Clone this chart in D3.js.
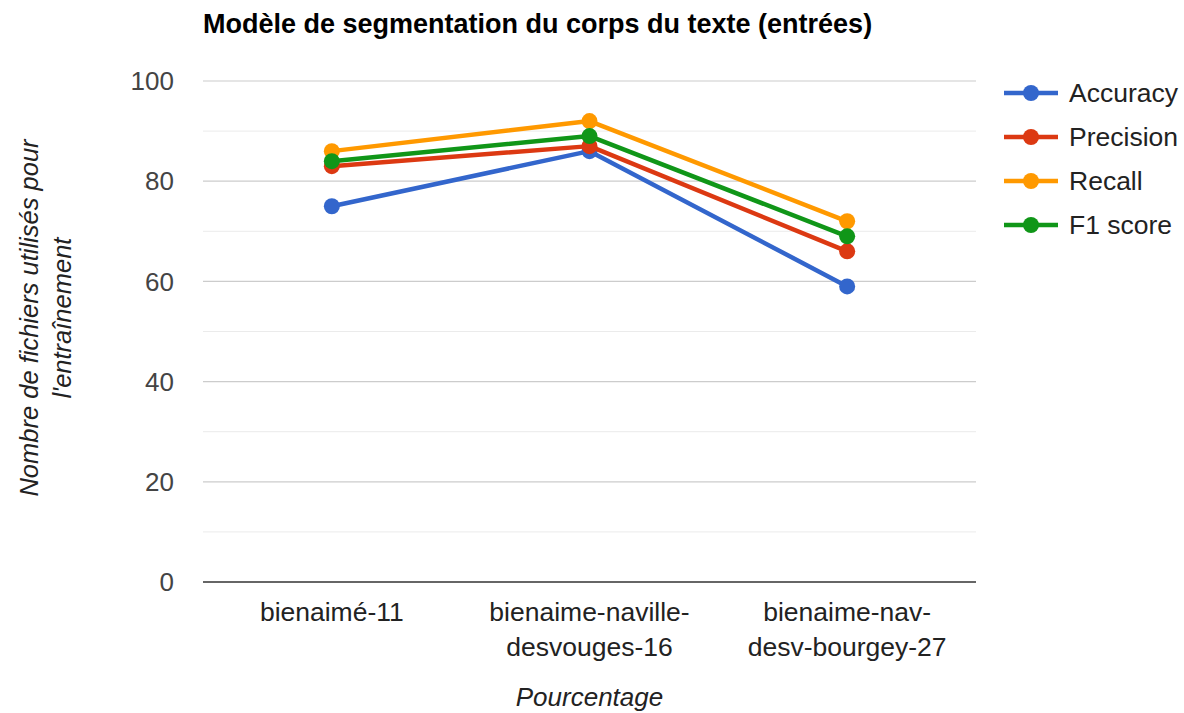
<!DOCTYPE html>
<html><head><meta charset="utf-8">
<script src="https://cdn.jsdelivr.net/npm/d3@7"></script>
<style>body{margin:0;background:#fff;}svg{display:block;font-family:"Liberation Sans",Arial,sans-serif;}</style>
</head><body>
<svg id="c" width="1184" height="713"></svg>
<script>
const categories = [["bienaimé-11"], ["bienaime-naville-", "desvouges-16"], ["bienaime-nav-", "desv-bourgey-27"]];
const seriesNames = ["Accuracy", "Precision", "Recall", "F1 score"];
const accuracy = [75, 86, 59];
const precision = [83, 87, 66];
const recall = [86, 92, 72];
const f1score = [84, 89, 69];
const yTicks = [0, 20, 40, 60, 80, 100];
const colors = ["#3366cc", "#dc3912", "#ff9900", "#109618"];
const seriesValues = [accuracy, precision, recall, f1score];

const svg = d3.select("#c");
const L = 203, R = 976, T = 81, B = 582;
const x = d3.scaleBand().domain(d3.range(categories.length)).range([L, R]);
const y = d3.scaleLinear().domain([0, 100]).range([B, T]);

// minor grid
const minor = d3.range(10, 100, 20);
svg.append("g").selectAll("line").data(minor).join("line")
  .attr("x1", L).attr("x2", R).attr("y1", d => y(d)).attr("y2", d => y(d))
  .attr("stroke", "#ebebeb").attr("stroke-width", 1);
// major grid
svg.append("g").selectAll("line").data(yTicks.filter(d => d > 0)).join("line")
  .attr("x1", L).attr("x2", R).attr("y1", d => y(d)).attr("y2", d => y(d))
  .attr("stroke", "#cccccc").attr("stroke-width", 1.2);
// baseline
svg.append("line").attr("x1", L).attr("x2", R).attr("y1", y(0)).attr("y2", y(0))
  .attr("stroke", "#333").attr("stroke-width", 1.3);

// y tick labels
svg.append("g").selectAll("text").data(yTicks).join("text")
  .attr("x", 174).attr("y", d => y(d)).attr("dy", "0.35em")
  .attr("text-anchor", "end").attr("font-size", 26).attr("fill", "#444")
  .text(d => d);

// x labels
const xl = svg.append("g").selectAll("text").data(categories).join("text")
  .attr("x", (d, i) => x(i) + x.bandwidth() / 2).attr("y", 621)
  .attr("text-anchor", "middle").attr("font-size", 26.5).attr("fill", "#222");
xl.selectAll("tspan").data(d => d).join("tspan")
  .attr("x", function() { return d3.select(this.parentNode).attr("x"); })
  .attr("dy", (d, i) => i === 0 ? 0 : 35).text(d => d);

// title
svg.append("text").attr("x", 203).attr("y", 33).attr("font-size", 27)
  .attr("font-weight", "bold").attr("fill", "#000")
  .text("Modèle de segmentation du corps du texte (entrées)");

// x axis title
svg.append("text").attr("x", (L + R) / 2).attr("y", 706).attr("text-anchor", "middle")
  .attr("font-size", 26).attr("font-style", "italic").attr("fill", "#222").text("Pourcentage");

// y axis title
const yt = svg.append("text").attr("transform", "translate(38,318) rotate(-90)")
  .attr("text-anchor", "middle").attr("font-size", 25.5).attr("font-style", "italic").attr("fill", "#222");
yt.append("tspan").attr("x", 0).attr("dy", 0).text("Nombre de fichiers utilisés pour");
yt.append("tspan").attr("x", 0).attr("dy", 33).text("l'entraînement");

// lines and points
const line = d3.line().x((d, i) => x(i) + x.bandwidth() / 2).y(d => y(d));
seriesValues.forEach((vals, s) => {
  const g = svg.append("g");
  g.append("path").datum(vals).attr("d", line).attr("fill", "none")
    .attr("stroke", colors[s]).attr("stroke-width", 4.5).attr("stroke-linejoin", "round");
  g.selectAll("circle").data(vals).join("circle")
    .attr("cx", (d, i) => x(i) + x.bandwidth() / 2).attr("cy", d => y(d))
    .attr("r", 8).attr("fill", colors[s]);
});

// legend
const lg = svg.append("g").selectAll("g").data(seriesNames).join("g")
  .attr("transform", (d, i) => `translate(1004,${93 + i * 44})`);
lg.append("line").attr("x1", 0).attr("x2", 54).attr("y1", 0).attr("y2", 0)
  .attr("stroke", (d, i) => colors[i]).attr("stroke-width", 4.5);
lg.append("circle").attr("cx", 27).attr("cy", 0).attr("r", 8).attr("fill", (d, i) => colors[i]);
lg.append("text").attr("x", 65).attr("y", 0).attr("dy", "0.35em")
  .attr("font-size", 26.5).attr("fill", "#222").text(d => d);
</script>
</body></html>
